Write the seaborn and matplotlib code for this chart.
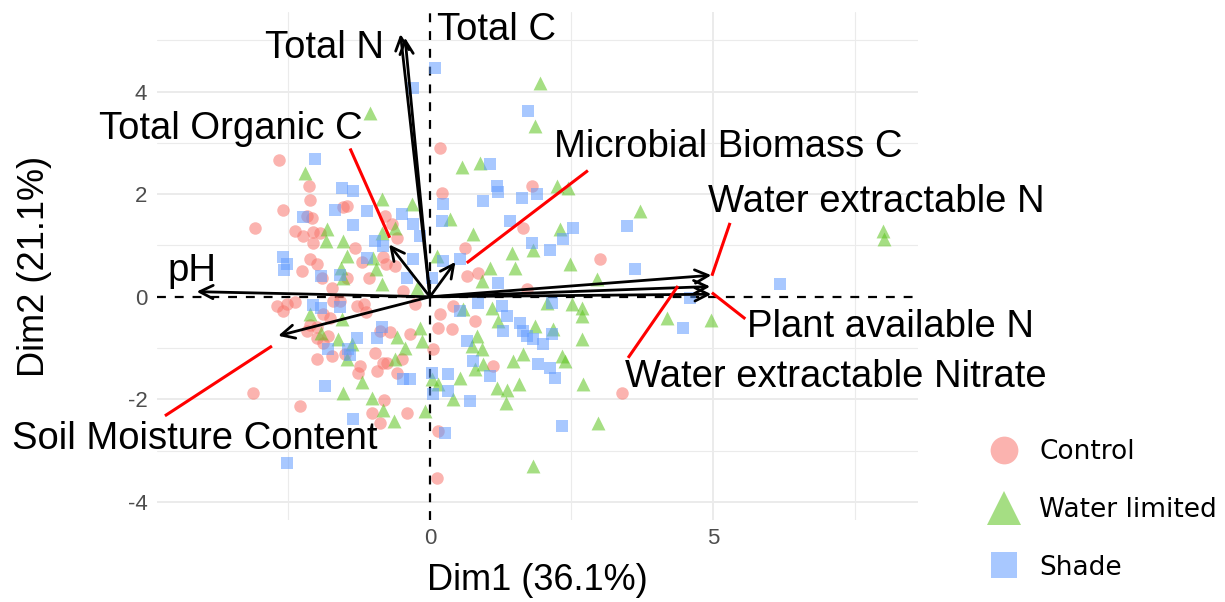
import matplotlib
matplotlib.use("Agg")
import matplotlib.pyplot as plt
import numpy as np
import pandas as pd
import seaborn as sns
from matplotlib.lines import Line2D

# ---------------- data ----------------
control_x = [-2.67,-2.14,-2.12,-2.60,-3.09,-2.17,-2.09,-1.54,-1.47,-2.39,-2.24,-2.07,-1.94,-2.07,-1.33,-0.80,-0.67,-0.58,-2.12,-2.00,-2.26,-1.91,-1.73,-1.47,-1.20,-1.08,-0.83,-0.78,-0.62,-0.48,
             -2.70,-2.60,-2.53,-2.39,-2.17,-2.12,-2.00,-1.89,-1.77,-1.29,-1.17,-1.13,-0.88,-0.71,-0.35,-0.27,-2.00,-1.89,-1.80,-2.00,-1.73,-1.50,-1.24,-0.94,-0.76,-0.97,-1.71,-1.59,-3.13,-2.30,-0.81,-1.02,-0.88,-0.41,-0.58,-0.49,-1.27,-0.83,
             0.62,0.65,0.85,0.41,0.18,0.14,0.39,0.80,0.05,1.11,1.71,3.00,0.18,0.21,1.80,1.64,3.39,0.12,0.14]
control_y = [2.67,2.16,1.89,1.70,1.35,1.58,1.54,1.75,1.77,1.29,1.19,1.27,1.25,1.05,0.96,1.58,1.42,1.15,0.74,0.64,0.51,0.37,0.18,0.37,0.68,0.37,0.78,0.64,0.60,0.12,
             -0.18,-0.27,-0.14,-0.10,-0.66,-0.55,-0.59,-0.33,-0.41,-0.18,-0.14,-0.29,-0.66,-0.68,-0.72,-0.14,-0.80,-0.90,-0.76,-1.21,-1.15,-1.11,-1.35,-1.44,-1.29,-1.09,-0.08,-0.08,-1.87,-2.13,-2.01,-2.26,-2.46,-2.26,-1.48,-1.21,-1.48,-1.29,
             0.96,0.41,0.47,-0.18,-0.33,-0.60,-0.62,-0.47,-1.01,-1.35,0.16,0.74,2.89,2.03,2.16,1.35,-1.87,-3.53,-2.61]

water_x = [-2.21,-0.85,-0.32,-1.82,-1.84,-1.54,-0.85,-0.62,-1.47,-1.01,-1.57,-1.54,-0.95,-0.23,-0.85,-1.06,1.94,1.86,0.57,0.88,
           2.24,2.44,0.35,0.76,1.45,1.82,2.30,2.47,1.50,1.06,0.92,0.58,1.10,1.20,0.12,2.07,2.51,2.69,2.69,1.86,
           2.17,2.69,0.83,0.74,0.92,1.64,1.47,0.94,0.80,2.33,2.39,0.53,1.18,1.36,1.57,2.70,0.04,0.14,0.41,1.34,
           3.71,2.95,4.19,4.97,8.00,8.02,2.97,1.82,-2.12,-1.93,-1.63,-1.38,-1.47,-0.62,-0.44,-0.58,-0.18,-0.14,-1.20,-1.54,
           -1.02,-0.83,-0.64,-1.56,-0.09]
water_y = [2.42,1.91,1.81,1.33,1.09,1.09,1.25,1.35,0.80,0.76,0.57,0.37,0.55,0.18,0.25,3.59,4.17,3.33,2.52,2.61,
           2.16,2.12,1.52,1.23,0.86,0.92,1.33,0.64,0.57,0.57,0.31,-0.23,-0.21,-0.47,0.80,-0.12,-0.14,-0.21,-0.37,-0.57,
           -0.62,-0.82,-0.76,-0.96,-1.01,-1.11,-1.25,-1.31,-1.40,-1.15,-1.25,-1.58,-1.77,-1.81,-1.70,-1.70,-1.60,-1.70,-1.99,-2.07,
           1.68,0.35,-0.41,-0.45,1.29,1.13,-2.46,-3.30,-0.33,-0.70,-0.82,-0.92,-1.21,-1.21,-0.99,-0.78,-0.60,-0.86,-1.66,-1.87,
           -1.97,-2.20,-2.42,-0.43,-2.22]

shade_x = [-2.03,-1.55,-1.36,-1.68,-1.11,-2.24,-1.36,-0.49,-0.18,-0.97,-0.83,-2.60,-2.53,-2.58,-1.11,-1.93,-1.59,-0.41,-0.30,-0.30,
           -0.30,0.09,1.73,1.06,1.18,1.20,1.63,1.89,0.23,0.21,0.94,1.41,0.53,0.23,0.04,1.20,1.80,2.12,2.35,2.53,
           0.53,0.85,1.27,1.36,1.29,1.59,1.64,1.71,1.82,2.00,2.16,2.16,0.65,0.76,0.32,0.04,1.91,2.12,2.21,1.06,
           0.05,0.32,0.71,3.48,3.62,4.59,4.47,6.18,2.33,0.27,-2.07,-1.93,-1.59,-1.29,-0.94,-0.85,-1.80,-1.45,-1.41,-1.86,
           -0.48,-0.35,-1.36,-2.53]
shade_y = [2.69,2.12,2.07,1.70,1.68,1.56,1.40,1.62,1.19,1.09,0.99,0.78,0.64,0.53,0.76,0.41,0.43,0.37,0.74,1.42,
           4.06,4.45,3.63,2.59,2.16,2.05,1.93,2.01,1.81,1.48,1.87,1.48,0.74,0.70,0.37,0.27,1.05,0.92,1.13,1.35,
           -0.27,-0.12,-0.18,-0.37,-0.66,-0.51,-0.66,-0.76,-0.82,-0.92,-0.12,-0.72,-0.86,-1.25,-1.50,-1.48,-1.31,-1.38,-1.58,-1.54,
           -1.89,-1.83,-2.03,1.38,0.55,-0.02,-0.60,0.25,-2.51,-2.65,-0.16,-0.21,-0.20,-0.80,-0.80,-0.59,-1.01,-1.01,-1.13,-1.74,
           -1.60,-1.60,-2.38,-3.24]

groups = ["Control", "Water limited", "Shade"]

# variable loadings (arrow tips)
var_names = ["Total N", "Total C", "Total Organic C", "Microbial Biomass C", "pH",
             "Soil Moisture Content", "Water extractable N", "Plant available N",
             "Water extractable Nitrate"]
var_x = [-0.52, -0.44, -0.72, 0.45, -4.12, -2.68, 4.97, 4.97, 4.95]
var_y = [5.12, 5.05, 1.02, 0.68, 0.10, -0.76, 0.42, 0.05, 0.20]

# repelled label positions and leader segments
label_x = [-1.86, 1.18, -3.52, 5.27, -4.20, -4.15, 7.88, 8.14, 7.16]
label_y = [4.84, 5.19, 3.27, 2.92, 0.50, -2.77, 1.85, -0.58, -1.56]
seg_from_x = [None, None, -1.41, 2.79, None, -4.68, 5.30, 5.57, 3.50]
seg_from_y = [None, None, 2.89, 2.46, None, -2.32, 1.44, -0.43, -1.19]
seg_to_x = [None, None, -0.71, 0.65, None, -2.79, 4.98, 4.98, 4.38]
seg_to_y = [None, None, 1.15, 0.66, None, -0.96, 0.41, 0.08, 0.21]

x_title = "Dim1 (36.1%)"
y_title = "Dim2 (21.1%)"

# ---------------- build frame ----------------
df = pd.concat([
    pd.DataFrame({"Dim1": control_x, "Dim2": control_y, "group": "Control"}),
    pd.DataFrame({"Dim1": water_x, "Dim2": water_y, "group": "Water limited"}),
    pd.DataFrame({"Dim1": shade_x, "Dim2": shade_y, "group": "Shade"}),
], ignore_index=True)

palette = {"Control": "#F8766D", "Water limited": "#5CC41E", "Shade": "#619CFF"}
markers = {"Control": "o", "Water limited": "^", "Shade": "s"}
sizes_pt = {"Control": 9.0, "Water limited": 10.0, "Shade": 8.5}
ALPHA = 0.55

sns.set_theme(style="white")
plt.rcParams["font.family"] = ["Liberation Sans", "DejaVu Sans"]

fig = plt.figure(figsize=(12.25, 6.02), dpi=100)
ax = fig.add_axes([157/1225, 1-520/602, (918-157)/1225, (520-12)/602])
ax.set_xlim(-4.82, 8.62)
ax.set_ylim(-4.35, 5.55)

# grid (ggplot-like)
for v in [-2.5, 2.5, 7.5]:
    ax.axvline(v, color="#EBEBEB", lw=0.8, zorder=0)
for v in [5]:
    ax.axvline(v, color="#EBEBEB", lw=1.4, zorder=0)
for v in [-3, -1, 1, 3, 5]:
    ax.axhline(v, color="#EBEBEB", lw=0.8, zorder=0)
for v in [-4, -2, 2, 4]:
    ax.axhline(v, color="#EBEBEB", lw=1.4, zorder=0)

ax.axhline(0, color="black", lw=1.6, ls=(0, (4, 4)), zorder=1)
ax.axvline(0, color="black", lw=1.6, ls=(0, (4, 4)), zorder=1)

for g in groups:
    sub = df[df.group == g]
    sns.scatterplot(data=sub, x="Dim1", y="Dim2", ax=ax, color=palette[g],
                    marker=markers[g], s=sizes_pt[g]**2, alpha=ALPHA,
                    linewidth=0, legend=False, zorder=2)

# arrows
for tx, ty in zip(var_x, var_y):
    ax.annotate("", xy=(tx, ty), xytext=(0, 0),
                arrowprops=dict(arrowstyle="->", lw=2.0, color="black",
                                mutation_scale=24, shrinkA=0, shrinkB=0),
                zorder=4)

# labels and leader segments
for name, lx, ly, fx, fy, tx, ty in zip(var_names, label_x, label_y,
                                        seg_from_x, seg_from_y, seg_to_x, seg_to_y):
    if fx is not None:
        ax.plot([fx, tx], [fy, ty], color="red", lw=2.2, clip_on=False, zorder=5,
                solid_capstyle="butt")
    ax.text(lx, ly, name, ha="center", va="center", fontsize=27.5, color="black",
            clip_on=False, zorder=6)

ax.set_xticks([0, 5])
ax.set_yticks([-4, -2, 0, 2, 4])
ax.set_xticklabels(["0", "5"])
ax.set_yticklabels(["-4", "-2", "0", "2", "4"])
ax.tick_params(axis="both", labelsize=16, labelcolor="#4D4D4D", colors="#333333")
ax.tick_params(axis="y", length=4, width=1, pad=3)
ax.tick_params(axis="x", length=0, pad=6)
for sp in ax.spines.values():
    sp.set_visible(False)
ax.set_xlabel(x_title, fontsize=26, labelpad=10, color="black")
ax.set_ylabel(y_title, fontsize=26, color="black")
ax.yaxis.set_label_coords((52-157)/761, 0.5)

handles = [Line2D([0], [0], marker=markers[g], color="none", markerfacecolor=palette[g],
                  markeredgewidth=0, markersize={"Control": 20, "Water limited": 25, "Shade": 19}[g],
                  alpha=ALPHA, label=g) for g in groups]
leg = fig.legend(handles=handles, loc="center left", bbox_to_anchor=(960/1225, 1-510/602),
                 frameon=False, prop={"family": "DejaVu Sans", "size": 19},
                 handletextpad=0.6, labelspacing=1.2, handlelength=1.5)
for t in leg.get_texts():
    t.set_color("black")

fig.savefig("out.png", dpi=100)
